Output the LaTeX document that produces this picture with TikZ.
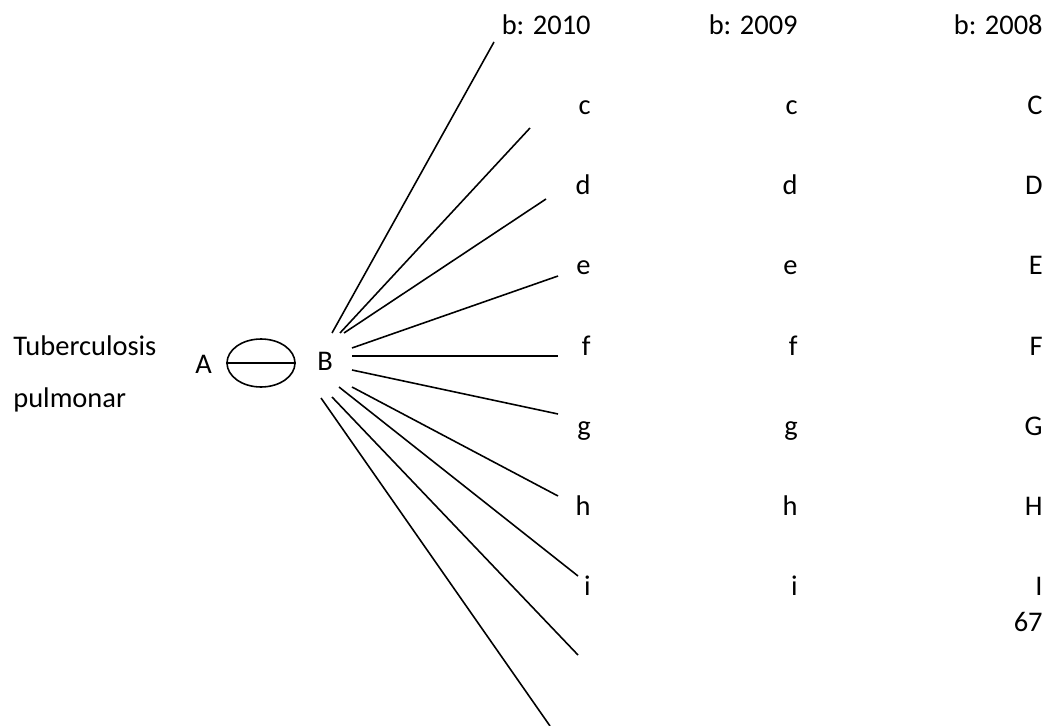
\documentclass[tikz,border=0pt]{standalone}
\usepackage{fontspec}
\setmainfont{Carlito}
\usetikzlibrary{shapes.geometric}

\begin{document}
\begin{tikzpicture}[
  x=0.02cm, y=-0.02cm,
  lbl/.style={anchor=base east, inner sep=0pt, font=\fontsize{16.2}{19}\selectfont},
  txt/.style={anchor=base west, inner sep=0pt, font=\fontsize{16.2}{19}\selectfont},
  line/.style={line width=0.9pt}
]
\useasboundingbox (0,0) rectangle (1058,726);

% left side
\node[txt] (tb) at (13,355) {Tuberculosis};
\node[txt] (pul) at (13,407) {pulmonar};
\node[txt] (A) at (195,373) {A};
\node[txt] (B) at (317,370) {B};
\node[draw, ellipse, line, minimum width=1.36cm, minimum height=0.96cm, inner sep=0pt] (lung) at (261,363) {};
\draw[line] (lung.west) -- (lung.east);

% three columns
\foreach \t [count=\k] in {b: 2010,c,d,e,f,g,h,i}
  \node[lbl] (p\k) at (591,{-45+80*\k}) {\t};
\foreach \t [count=\k] in {b: 2009,c,d,e,f,g,h,i}
  \node[lbl] (q\k) at (798,{-45+80*\k}) {\t};
\foreach \t [count=\k] in {b: 2008,C,D,E,F,G,H,I}
  \node[lbl] (r\k) at (1043,{-45+80*\k}) {\t};
\node[lbl] (r9) at (1043,631) {67};

% fan of lines from B
\foreach \n/\sx/\sy/\ex/\ey in {1/332/333/494/42, 2/340/333/530/128,
    3/344/333/546/199, 4/352/348/558/276, 5/352/356/558/356,
    6/352/370/558/414, 7/352/387/558/496, 8/339/387/578/576,
    9/332/397/578/655, 10/321/398/550/726} {
  \coordinate (s\n) at (\sx,\sy);
  \coordinate (t\n) at (\ex,\ey);
  \draw[line] (s\n) -- (t\n);
}

\end{tikzpicture}
\end{document}
